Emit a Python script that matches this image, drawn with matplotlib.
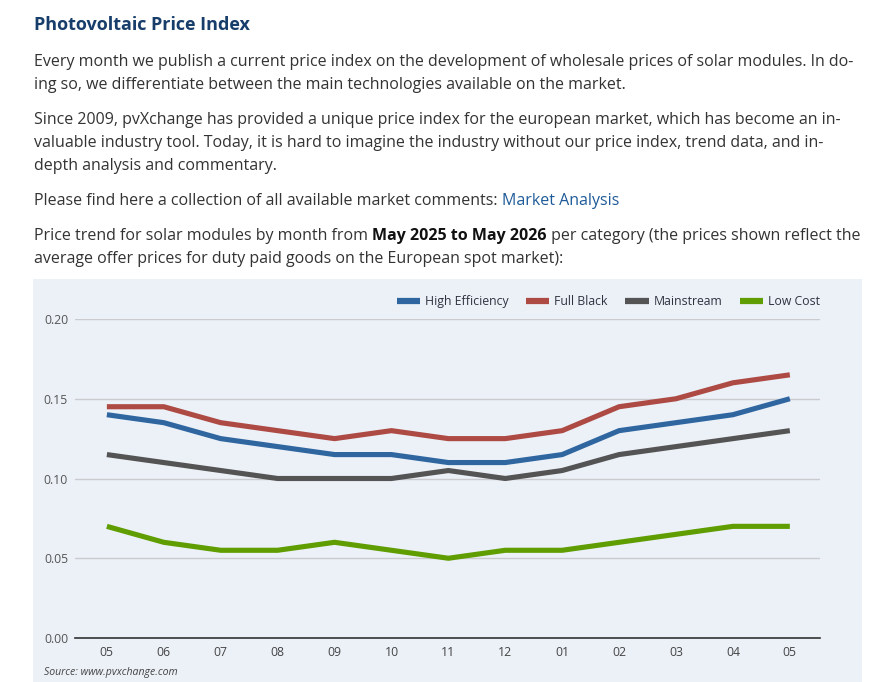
import matplotlib.pyplot as plt
from matplotlib.patches import Rectangle

months = ["05", "06", "07", "08", "09", "10", "11", "12", "01", "02", "03", "04", "05"]
high_efficiency = [0.140, 0.135, 0.125, 0.120, 0.115, 0.115, 0.110, 0.110, 0.115, 0.130, 0.135, 0.140, 0.150]
full_black = [0.145, 0.145, 0.135, 0.130, 0.125, 0.130, 0.125, 0.125, 0.130, 0.145, 0.150, 0.160, 0.165]
mainstream = [0.115, 0.110, 0.105, 0.100, 0.100, 0.100, 0.105, 0.100, 0.105, 0.115, 0.120, 0.125, 0.130]
low_cost = [0.070, 0.060, 0.055, 0.055, 0.060, 0.055, 0.050, 0.055, 0.055, 0.060, 0.065, 0.070, 0.070]
y_ticks = [0.00, 0.05, 0.10, 0.15, 0.20]

SERIES = [
    ("High Efficiency", high_efficiency, "#2f66a0"),
    ("Full Black", full_black, "#ad4a44"),
    ("Mainstream", mainstream, "#545454"),
    ("Low Cost", low_cost, "#5f9d00"),
]

W, H = 890, 682
TEXT = "#333333"
FONT = "Open Sans"
plt.rcParams["font.family"] = [FONT, "DejaVu Sans"]

fig = plt.figure(figsize=(W / 100, H / 100), dpi=100)
fig.patch.set_facecolor("white")


def px(x, y):
    # pixel coords (top-left origin) -> figure fraction
    return x / W, 1 - y / H


def run(x, y, pieces, size=11.5):
    # draw text pieces one after another on a single baseline
    r = fig.canvas.get_renderer()
    for s, kw in pieces:
        t = fig.text(*px(x, y), s, fontsize=size, color=kw.get("color", TEXT),
                     fontweight=kw.get("weight", "normal"), va="baseline", ha="left")
        bb = t.get_window_extent(renderer=r)
        x += bb.width


fig.text(*px(34, 30), "Photovoltaic Price Index", fontsize=13, fontweight="bold",
         color="#173d6b", va="baseline")

body = [
    (66, "Every month we publish a current price index on the development of wholesale prices of solar modules. In do-"),
    (89, "ing so, we differentiate between the main technologies available on the market."),
    (124, "Since 2009, pvXchange has provided a unique price index for the european market, which has become an in-"),
    (147, "valuable industry tool. Today, it is hard to imagine the industry without our price index, trend data, and in-"),
    (170, "depth analysis and commentary."),
]
for y, line in body:
    run(34, y, [(line, {})])

run(34, 205, [("Please find here a collection of all available market comments: ", {}),
              ("Market Analysis", {"color": "#1f5b98"})])
run(34, 240, [("Price trend for solar modules by month from ", {}),
              ("May 2025 to May 2026", {"weight": "bold", "color": "#111111"}),
              (" per category (the prices shown reflect the", {})])
run(34, 263, [("average offer prices for duty paid goods on the European spot market):", {})])

# chart panel, drawn beneath the axes
fig.patches.append(Rectangle(px(33, 682), (862 - 33) / W, (682 - 279) / H,
                             transform=fig.transFigure, facecolor="#ecf1f8",
                             edgecolor="none", zorder=-5))

l, b = px(75, 638)
r_, t = px(820, 319)
ax = fig.add_axes([l, b, r_ - l, t - b])
ax.set_facecolor("none")
ax.set_zorder(2)

x = list(range(len(months)))
for name, vals, color in SERIES:
    ax.plot(x, vals, color=color, linewidth=3.7, label=name, solid_capstyle="butt",
            solid_joinstyle="round", zorder=3)

ax.set_xlim(-0.56, 12.53)
ax.set_ylim(0, 0.20)
ax.set_yticks(y_ticks)
ax.set_yticklabels([f"{v:.2f}" for v in y_ticks])
ax.set_xticks(x)
ax.set_xticklabels(months)
ax.grid(axis="y", color="#c9cbcf", linewidth=1.0, zorder=1)
ax.set_axisbelow(True)
for s in ("top", "right", "left"):
    ax.spines[s].set_visible(False)
ax.spines["bottom"].set_color("#333333")
ax.spines["bottom"].set_linewidth(1.2)
ax.spines["bottom"].set_zorder(4)
ax.tick_params(axis="y", length=0, pad=5, labelsize=8.8, labelcolor="#555555")
ax.tick_params(axis="x", length=0, pad=6, labelsize=8.8, labelcolor="#444444")

leg = ax.legend(loc="lower right", bbox_to_anchor=(1.0, 1.035), ncol=4, frameon=False,
                fontsize=8.8, handlelength=1.9, handletextpad=0.4, columnspacing=1.45,
                borderaxespad=0, borderpad=0)
for line in leg.get_lines():
    line.set_linewidth(4.5)
for txt in leg.get_texts():
    txt.set_color("#2e3340")

fig.text(*px(44, 675), "Source: www.pvxchange.com", fontsize=7.6, style="italic",
         color="#444444", va="baseline")

fig.savefig("out.png", dpi=100, facecolor="white")
